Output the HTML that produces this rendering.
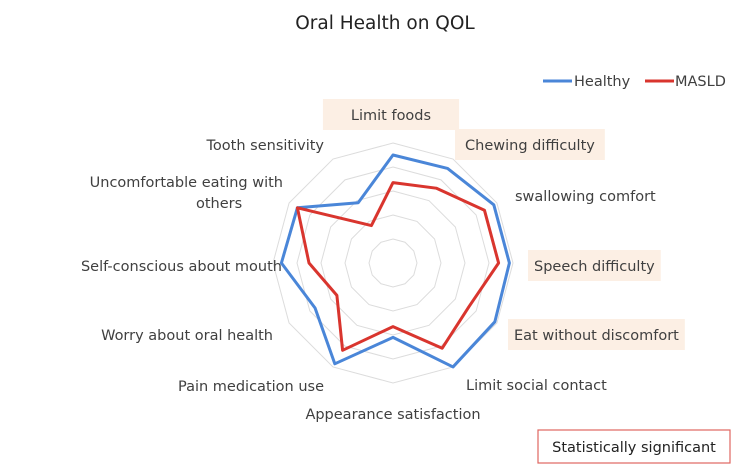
<!DOCTYPE html>
<html><head><meta charset="utf-8"><style>
body{margin:0;background:#fff;font-family:"DejaVu Sans",sans-serif}
svg{display:block}
text{fill:#404040;font-size:14.5px;font-family:"DejaVu Sans",sans-serif}
</style></head><body>
<svg id="chart" width="750" height="469">
<text x="385" y="29" text-anchor="middle" style="font-size:18.5px;fill:#222">Oral Health on QOL</text>
<g>
<line x1="543" y1="81" x2="572" y2="81" stroke="#4a86d8" stroke-width="3"/>
<text x="574" y="86">Healthy</text>
<line x1="645" y1="81" x2="674" y2="81" stroke="#d9352e" stroke-width="3"/>
<text x="675" y="86">MASLD</text>
</g>
<g id="grid"></g><g id="series"></g><g id="labels"></g>
<rect x="538" y="430" width="192" height="33" fill="#fff" stroke="#e06660" stroke-width="1.2"/>
<text x="634" y="452" text-anchor="middle" style="fill:#222">Statistically significant</text>
</svg>
<script>
const categories=["Limit foods","Chewing difficulty","swallowing comfort","Speech difficulty","Eat without discomfort","Limit social contact","Appearance satisfaction","Pain medication use","Worry about oral health","Self-conscious about mouth","Uncomfortable eating with others","Tooth sensitivity"];
const healthy=[4.5,4.55,4.85,4.85,4.9,5.0,3.1,4.85,3.75,4.65,4.6,2.9];
const masld=[3.35,3.6,4.4,4.4,3.65,4.1,2.65,4.2,2.7,3.5,4.6,1.8];
const significant=[true,true,false,true,true,false,false,false,false,false,false,false];
const ringLevels=[1,2,3,4,5];
const NS="http://www.w3.org/2000/svg";
const cx=393,cy=263,R=120,maxV=5;
function pt(i,v){const a=i*2*Math.PI/categories.length;const r=v/maxV*R;return [cx+r*Math.sin(a),cy-r*Math.cos(a)];}
const grid=document.getElementById('grid');
ringLevels.forEach(l=>{const p=document.createElementNS(NS,'polygon');
p.setAttribute('points',categories.map((c,i)=>pt(i,l).join(',')).join(' '));
p.setAttribute('fill','none');p.setAttribute('stroke','#dcdcdc');p.setAttribute('stroke-width','1');


grid.appendChild(p);});
const ser=document.getElementById('series');
[[healthy,'#4a86d8','healthy-series'],[masld,'#d9352e','masld-series']].forEach(([d,c,n])=>{
const p=document.createElementNS(NS,'polygon');
p.setAttribute('points',d.map((v,i)=>pt(i,v).join(',')).join(' '));
p.setAttribute('fill','none');p.setAttribute('stroke',c);p.setAttribute('stroke-width','3');p.setAttribute('stroke-linejoin','round');


ser.appendChild(p);});
const lab=document.getElementById('labels');
const pos=[[391,120,'middle'],[465,150,'start'],[515,201,'start'],[534,271,'start'],[514,340,'start'],[466,390,'start'],[393,419,'middle'],[324,391,'end'],[273,340,'end'],[282,271,'end'],[283,192,'end'],[324,150,'end']];
const pads=[28,10,10,6,6,10,10,10,10,10,10,10];
categories.forEach((c,i)=>{const [x,y,anc]=pos[i];
const t=document.createElementNS(NS,'text');t.setAttribute('x',x);t.setAttribute('y',y);t.setAttribute('text-anchor',anc);
if(c==="Uncomfortable eating with others"){t.setAttribute('y',y-5);t.innerHTML='<tspan x="'+x+'">Uncomfortable eating with</tspan><tspan x="196" dy="21" text-anchor="start">others</tspan>';}
else t.textContent=c;


lab.appendChild(t);
if(significant[i]){const tw=t.getComputedTextLength();const w=tw+2*pads[i];const r=document.createElementNS(NS,'rect');
const rx=anc==='middle'?x-w/2:(anc==='start'?x-pads[i]:x-w+pads[i]);
r.setAttribute('x',rx);r.setAttribute('y',y-21);r.setAttribute('width',w);r.setAttribute('height',31);r.setAttribute('fill','#fcefe4');


lab.insertBefore(r,t);}
});
</script>
</body></html>
